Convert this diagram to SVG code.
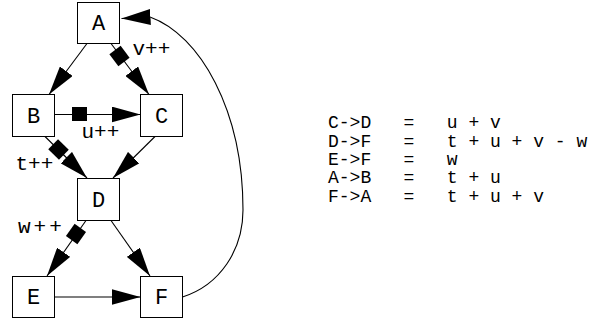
<svg xmlns="http://www.w3.org/2000/svg" xmlns:xlink="http://www.w3.org/1999/xlink" width="599" height="323" viewBox="0 0 599 323">
<style>
.box{fill:#fff;stroke:#000;stroke-width:1}
.e{fill:none;stroke:#000;stroke-width:1.1}
.n{font-family:"Liberation Mono",monospace;font-size:22px;text-anchor:middle;fill:#000}
.l{font-family:"Liberation Mono",monospace;font-size:21px;fill:#000}
.t{font-family:"Liberation Mono",monospace;font-size:18px;fill:#000}
</style>
<defs>
<marker id="ah" markerUnits="userSpaceOnUse" markerWidth="29" markerHeight="16" viewBox="0 0 29 16" refX="29" refY="8" orient="auto">
<path d="M0,0 L29,8 L0,16 Z" fill="#000"/>
</marker>
<rect id="sq" x="-7.5" y="-7" width="15" height="14" fill="#000"/>
</defs>
<g id="edges">
<path class="e" d="M87,43.5 L49,94.5" marker-end="url(#ah)"/>
<path class="e" d="M111,43.5 L149,94.5" marker-end="url(#ah)"/>
<use xlink:href="#sq" transform="translate(119.5,56) rotate(53.3)"/>
<path class="e" d="M54.5,114.5 L140.5,114.5" marker-end="url(#ah)"/>
<use xlink:href="#sq" transform="translate(79.5,114)"/>
<path class="e" d="M45,136.5 L87,178" marker-end="url(#ah)"/>
<use xlink:href="#sq" transform="translate(58.5,149.5) rotate(44.3)"/>
<path class="e" d="M155,136.5 L113,178" marker-end="url(#ah)"/>
<path class="e" d="M86,220.5 L47,276" marker-end="url(#ah)"/>
<use xlink:href="#sq" transform="translate(76,234) rotate(125.3)"/>
<path class="e" d="M111,220.5 L150,276" marker-end="url(#ah)"/>
<path class="e" d="M54.5,297 L140.5,297" marker-end="url(#ah)"/>
<path class="e" d="M182.5,297 C220,285 243,250 243,210 C243,110 200,35 150,17 L121.5,18.5" marker-end="url(#ah)"/>
<text class="l" x="132.5" y="55">v++</text>
<text class="l" x="81.5" y="138">u++</text>
<text class="l" x="15.5" y="170">t++</text>
<text class="l" x="18" y="233" letter-spacing="3">w++</text>
</g>
<g id="A"><rect class="box" x="77.5" y="2.5" width="42" height="41"/><text class="n" x="98.5" y="30">A</text></g>
<g id="B"><rect class="box" x="12.5" y="94.5" width="42" height="42"/><text class="n" x="33.5" y="122.5">B</text></g>
<g id="C"><rect class="box" x="140.5" y="94.5" width="42" height="42"/><text class="n" x="161.5" y="122.5">C</text></g>
<g id="D"><rect class="box" x="77.5" y="178.5" width="42" height="42"/><text class="n" x="98.5" y="206.5">D</text></g>
<g id="E"><rect class="box" x="12.5" y="276.5" width="42" height="41"/><text class="n" x="33.5" y="304">E</text></g>
<g id="F"><rect class="box" x="140.5" y="276.5" width="42" height="41"/><text class="n" x="161.5" y="304">F</text></g>
<g id="table">
<text class="t" x="328" y="128.3">C-&gt;D</text><text class="t" x="403.6" y="128.3">=</text><text class="t" x="446.8" y="128.3">u + v</text>
<text class="t" x="328" y="146.7">D-&gt;F</text><text class="t" x="403.6" y="146.7">=</text><text class="t" x="446.8" y="146.7">t + u + v - w</text>
<text class="t" x="328" y="165">E-&gt;F</text><text class="t" x="403.6" y="165">=</text><text class="t" x="446.8" y="165">w</text>
<text class="t" x="328" y="183.3">A-&gt;B</text><text class="t" x="403.6" y="183.3">=</text><text class="t" x="446.8" y="183.3">t + u</text>
<text class="t" x="328" y="201.7">F-&gt;A</text><text class="t" x="403.6" y="201.7">=</text><text class="t" x="446.8" y="201.7">t + u + v</text>
</g>
</svg>
